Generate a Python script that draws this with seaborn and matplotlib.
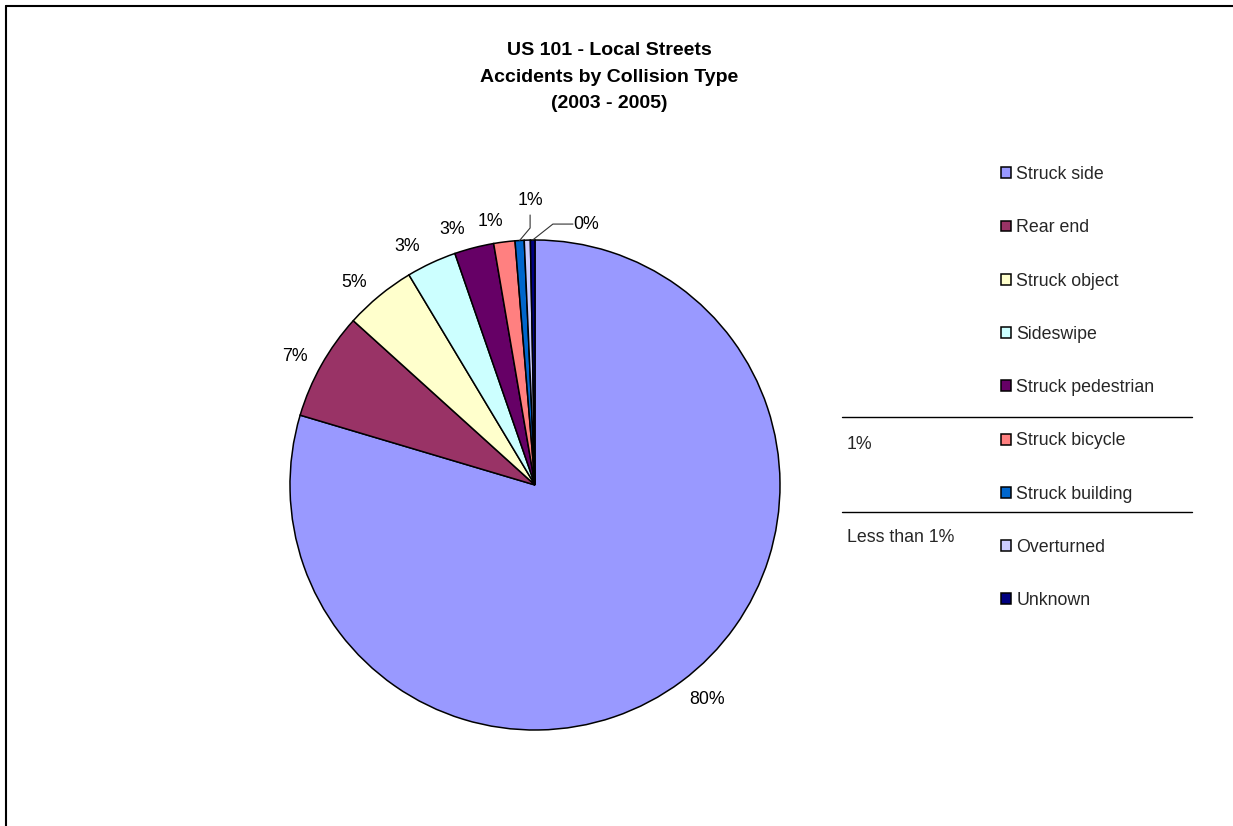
import matplotlib
matplotlib.use("Agg")
import matplotlib.pyplot as plt
from matplotlib.lines import Line2D
import numpy as np
import seaborn as sns

# Accident counts by collision type, 2003-2005
categories = ["Struck side", "Rear end", "Struck object", "Sideswipe",
              "Struck pedestrian", "Struck bicycle", "Struck building",
              "Overturned", "Unknown"]
accidents = [796, 71, 47, 33, 26, 14, 6, 4, 3]
slice_colors = ["#9999FF", "#993366", "#FFFFCC", "#CCFFFF", "#660066",
                "#FF8080", "#0066CC", "#CCCCFF", "#000080"]
group_labels = ["1%", "Less than 1%"]
title_lines = ["US 101 - Local Streets", "Accidents by Collision Type", "(2003 - 2005)"]

sns.set_theme(style="white")
plt.rcParams["font.family"] = ["Liberation Sans", "DejaVu Sans"]

W, H = 1233, 826
fig = plt.figure(figsize=(W / 100, H / 100), dpi=100)
fig.patch.set_facecolor("white")


def fx(px):
    return px / W


def fy(py):
    return 1 - py / H


# chart area frame (top and left edges)
frame_kw = dict(color="black", linewidth=1.5, transform=fig.transFigure)
fig.add_artist(Line2D([fx(6), fx(6)], [fy(6), fy(H + 5)], **frame_kw))
fig.add_artist(Line2D([fx(6), fx(W + 5)], [fy(6), fy(6)], **frame_kw))

# title
for text, base in zip(title_lines, [55, 82, 108]):
    fig.text(fx(609), fy(base), text, ha="center", va="baseline",
             fontsize=14, fontweight="bold", color="black")

# pie
R, cx, cy, L = 245, 535, 485, 1.02
ax = fig.add_axes([fx(cx - R * L), fy(cy + R * L), 2 * R * L / W, 2 * R * L / H])
palette = sns.color_palette(slice_colors)
wedges, _ = ax.pie(accidents, colors=palette, startangle=90, counterclock=False,
                   wedgeprops=dict(edgecolor="black", linewidth=1.1))
ax.set_xlim(-L, L)
ax.set_ylim(-L, L)
ax.set_aspect("equal")
ax.axis("off")

total = float(sum(accidents))
pct = [int(np.floor(100 * v / total + 0.5)) for v in accidents]
FS = 12.8


def mid_point(w, r, shift=0.0):
    a = np.deg2rad((w.theta1 + w.theta2) / 2 + shift)
    return r * np.cos(a), r * np.sin(a)


# outside-end labels: the label corner nearest the pie sits just past the rim
for i in range(6):
    x, y = mid_point(wedges[i], 1.05, shift=1.5 if 1 <= i <= 4 else 0.0)
    ax.text(x, y, f"{pct[i]}%", fontsize=FS, color="black",
            ha="right" if x < 0 else "left",
            va="bottom" if y > 0 else "top")

# small slices get labels pulled out with leader lines
label_kw = dict(ha="center", va="center", fontsize=FS, color="black")
leader_kw = dict(color="#333333", linewidth=0.8, clip_on=False)
ex, ey = mid_point(wedges[6], 1.0)
ax.text(-0.02, 1.16, f"{pct[6]}%", **label_kw)
ax.plot([-0.02, -0.02, ex], [1.102, 1.049, ey], **leader_kw)

ex, ey = mid_point(wedges[8], 1.0)
ax.text(0.21, 1.065, f"{pct[8]}%", **label_kw)
ax.plot([0.155, 0.073, ex], [1.065, 1.065, ey], **leader_kw)

# legend
leg = fig.legend(wedges, categories, loc="upper left",
                 bbox_to_anchor=(fx(1001), fy(166)), frameon=False,
                 fontsize=FS, handlelength=0.57, handleheight=0.57,
                 handletextpad=0.3, labelspacing=2.04, borderpad=0,
                 borderaxespad=0)

# grouping rules and labels beside the legend
rule_kw = dict(color="black", linewidth=1.0, transform=fig.transFigure)
for yy in [417, 512]:
    fig.add_artist(Line2D([fx(842), fx(1192)], [fy(yy), fy(yy)], **rule_kw))
for text, yy in zip(group_labels, [445, 538]):
    fig.text(fx(847), fy(yy), text, ha="left", va="center", fontsize=FS)

fig.savefig("out.png", dpi=100, facecolor="white")
